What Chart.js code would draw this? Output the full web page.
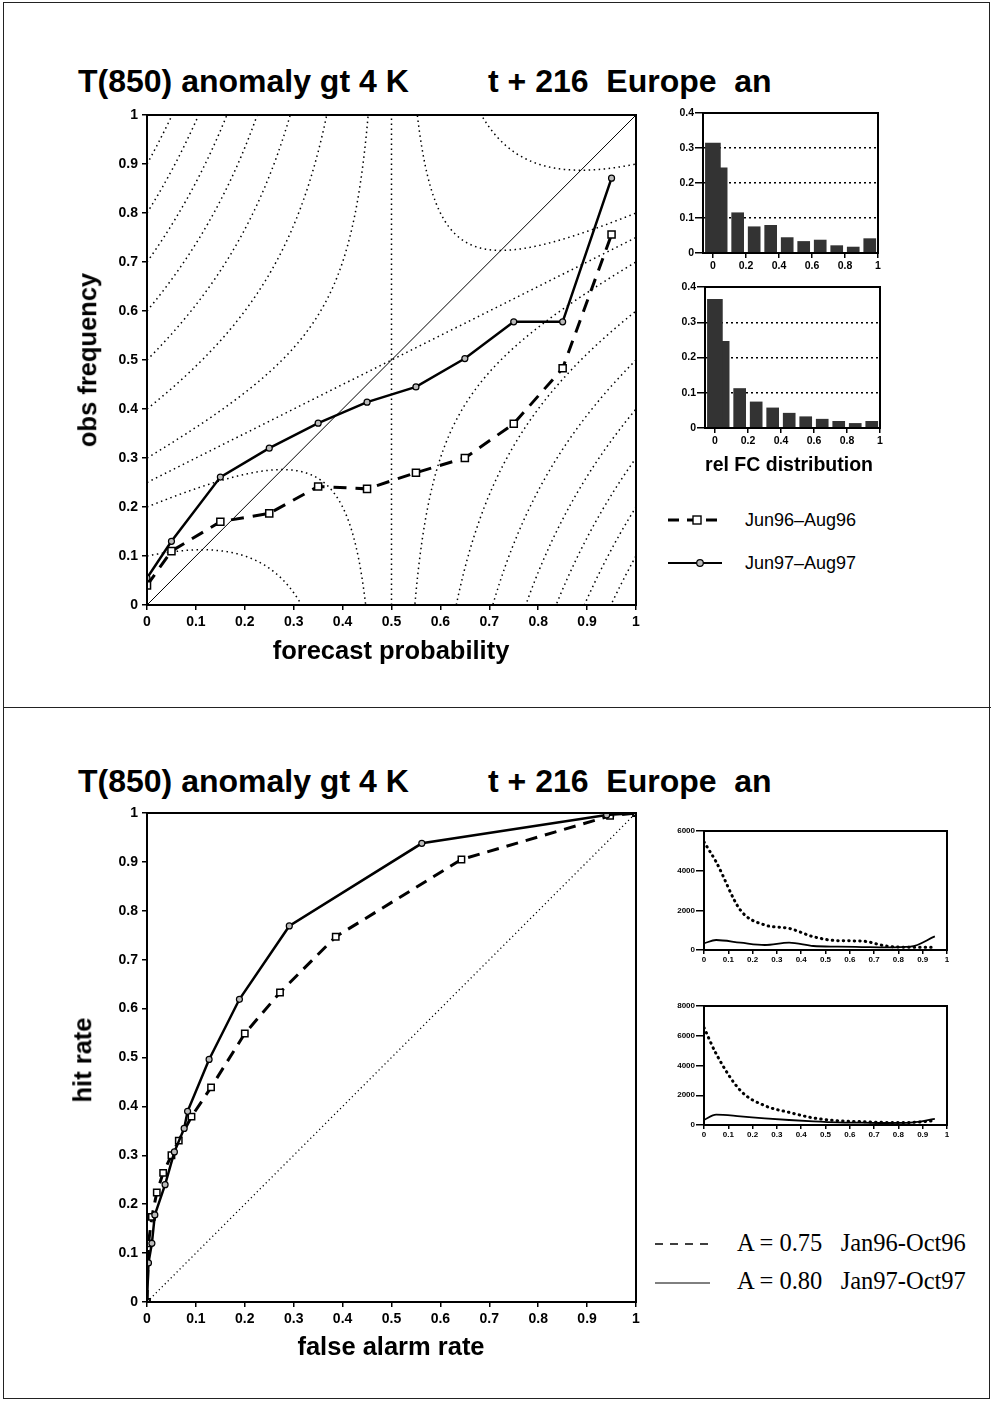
<!DOCTYPE html>
<html>
<head>
<meta charset="utf-8">
<script src="https://cdn.jsdelivr.net/npm/chart.js@4.4.1/dist/chart.umd.min.js"></script>
<style>
  html, body { margin: 0; padding: 0; background: #fff; }
  body { width: 994px; height: 1402px; position: relative; overflow: hidden;
         font-family: "Liberation Sans", Arial, sans-serif; color: #000; }
  .frame { position: absolute; left: 3px; top: 2px; width: 985px; height: 1395px; border: 1.5px solid #222; }
  .divider { position: absolute; left: 3px; top: 707px; width: 988px; border-top: 1.5px solid #222; }
  canvas { position: absolute; }
  .title { position: absolute; font-size: 32px; font-weight: bold; white-space: pre; line-height: 32px; }
  .axt { position: absolute; font-size: 25.5px; font-weight: bold; white-space: nowrap; line-height: 1;
         transform: translate(-50%, -50%); }
  .axt.v { transform: translate(-50%, -50%) rotate(-90deg); }
  .leg { position: absolute; font-size: 18px; white-space: pre; line-height: 18px; }
  .legt { position: absolute; font-family: "Liberation Serif", "Times New Roman", serif; font-size: 24.5px;
          white-space: pre; line-height: 24px; }
</style>
</head>
<body>
<div class="frame"></div>
<div class="divider"></div>

<div class="title" style="left:78px; top:65px;">T(850) anomaly gt 4 K</div>
<div class="title" style="left:488px; top:65px;">t + 216  Europe  an</div>
<div class="title" style="left:78px; top:765px;">T(850) anomaly gt 4 K</div>
<div class="title" style="left:488px; top:765px;">t + 216  Europe  an</div>

<canvas id="rel" width="600" height="570" style="left:60px; top:100px;"></canvas>
<canvas id="fc96" width="240" height="172" style="left:650px; top:103px;"></canvas>
<canvas id="fc97" width="240" height="173" style="left:652px; top:277px;"></canvas>
<canvas id="roc" width="600" height="569" style="left:60px; top:798px;"></canvas>
<canvas id="cnt96" width="305" height="147" style="left:650px; top:821px;"></canvas>
<canvas id="cnt97" width="305" height="147" style="left:650px; top:996px;"></canvas>

<div class="axt v" style="left:88px; top:360px;">obs frequency</div>
<div class="axt" style="left:391px; top:651px;">forecast probability</div>
<div class="axt" style="left:789px; top:465px; font-size:19.5px;">rel FC distribution</div>
<div class="axt v" style="left:83px; top:1060px;">hit rate</div>
<div class="axt" style="left:391px; top:1347px;">false alarm rate</div>

<svg style="position:absolute; left:660px; top:505px;" width="70" height="70">
  <line x1="8" y1="15" x2="62" y2="15" stroke="#000" stroke-width="3" stroke-dasharray="11 8"/>
  <rect x="33" y="11" width="8" height="8" fill="#fff" stroke="#000" stroke-width="1.4"/>
  <line x1="8" y1="58" x2="62" y2="58" stroke="#000" stroke-width="2.2"/>
  <circle cx="40" cy="58" r="3.3" fill="#bbb" stroke="#000" stroke-width="1.2"/>
</svg>
<div class="leg" style="left:745px; top:511px;">Jun96–Aug96</div>
<div class="leg" style="left:745px; top:554px;">Jun97–Aug97</div>

<svg style="position:absolute; left:650px; top:1230px;" width="70" height="70">
  <line x1="5" y1="14" x2="60" y2="14" stroke="#000" stroke-width="1.6" stroke-dasharray="8 7"/>
  <line x1="5" y1="53" x2="60" y2="53" stroke="#000" stroke-width="1"/>
</svg>
<div class="legt" style="left:737px; top:1231px;">A = 0.75   Jan96-Oct96</div>
<div class="legt" style="left:737px; top:1269px;">A = 0.80   Jan97-Oct97</div>

<script>
// reliability diagram
const fcProb = [0, 0.05, 0.15, 0.25, 0.35, 0.45, 0.55, 0.65, 0.75, 0.85, 0.95];
const obsFreq96 = [0.04, 0.11, 0.17, 0.187, 0.242, 0.237, 0.27, 0.30, 0.37, 0.483, 0.756];
const obsFreq97 = [0.055, 0.13, 0.261, 0.32, 0.371, 0.414, 0.445, 0.503, 0.578, 0.578, 0.871];
const climFreq = 0.5;
const noSkill = [0.25, 0.75];
const skillLevels = [0.15, 0.05, -0.05, -0.15, -0.25, -0.35, -0.45, -0.55, -0.65];
const axisTicks = [0, 0.1, 0.2, 0.3, 0.4, 0.5, 0.6, 0.7, 0.8, 0.9, 1];

// relative forecast distribution
const relBins = [0, 0.05, 0.15, 0.25, 0.35, 0.45, 0.55, 0.65, 0.75, 0.85, 0.95];
const relFc96 = [0.314, 0.243, 0.115, 0.075, 0.079, 0.044, 0.033, 0.037, 0.021, 0.017, 0.041];
const relFc97 = [0.365, 0.246, 0.112, 0.074, 0.057, 0.042, 0.032, 0.025, 0.019, 0.013, 0.019];
const relXTicks = [0, 0.2, 0.4, 0.6, 0.8, 1];
const relYTicks = [0, 0.1, 0.2, 0.3, 0.4];

// ROC
const far96 = [0, 0.003, 0.01, 0.02, 0.033, 0.05, 0.065, 0.091, 0.131, 0.2, 0.272, 0.386, 0.643, 0.947, 1];
const hit96 = [0, 0.12, 0.174, 0.224, 0.264, 0.30, 0.33, 0.379, 0.439, 0.549, 0.633, 0.747, 0.905, 0.994, 1];
const far97 = [0, 0.003, 0.01, 0.016, 0.037, 0.056, 0.076, 0.083, 0.127, 0.189, 0.291, 0.562, 0.94, 1];
const hit97 = [0, 0.08, 0.12, 0.178, 0.24, 0.307, 0.355, 0.39, 0.496, 0.619, 0.769, 0.938, 0.996, 1];

// forecast counts per probability
const cntProb = [0, 0.05, 0.15, 0.25, 0.35, 0.45, 0.55, 0.65, 0.75, 0.85, 0.95];
const cntA96 = [5450, 4440, 2010, 1260, 1090, 670, 470, 450, 200, 135, 135];
const cntA97 = [335, 503, 369, 251, 369, 201, 168, 150, 134, 168, 687];
const cntB96 = [6550, 4790, 2315, 1300, 850, 475, 290, 225, 175, 175, 290];
const cntB97 = [337, 695, 580, 445, 337, 243, 175, 155, 135, 155, 405];
const cntATicks = [0, 2000, 4000, 6000];
const cntBTicks = [0, 2000, 4000, 6000, 8000];

const FONT = '"Liberation Sans", Arial, sans-serif';
const fmt = v => String(Math.round(v * 10) / 10);
const pts = (xs, ys) => xs.map((x, i) => ({ x, y: ys[i] }));

const boxPlugin = {
  id: 'box',
  afterDatasetsDraw(chart, args, opts) {
    const { ctx, chartArea: a } = chart;
    ctx.save();
    ctx.lineWidth = opts.width || 2;
    ctx.strokeStyle = '#000';
    ctx.strokeRect(a.left, a.top, a.right - a.left, a.bottom - a.top);
    ctx.restore();
  }
};

// skill isolines of the reliability diagram
const isolinePlugin = {
  id: 'isolines',
  beforeDatasetsDraw(chart) {
    const { ctx, chartArea: a, scales: { x, y } } = chart;
    ctx.save();
    ctx.beginPath();
    ctx.rect(a.left, a.top, a.right - a.left, a.bottom - a.top);
    ctx.clip();
    ctx.strokeStyle = '#000';
    ctx.lineWidth = 1.5;
    ctx.setLineDash([1.5, 3.5]);
    skillLevels.forEach(k => {
      [[0, climFreq - 0.0005], [climFreq + 0.0005, 1]].forEach(([p0, p1]) => {
        ctx.beginPath();
        let on = false;
        for (let i = 0; i <= 600; i++) {
          const p = p0 + (p1 - p0) * i / 600;
          const o = (p + climFreq + k / (p - climFreq)) / 2;
          if (o < -0.3 || o > 1.3) { on = false; continue; }
          const px = x.getPixelForValue(p), py = y.getPixelForValue(o);
          if (!on) { ctx.moveTo(px, py); on = true; } else ctx.lineTo(px, py);
        }
        ctx.stroke();
      });
    });
    ctx.restore();
  }
};

function mainScale(extra, fit) {
  return Object.assign({
    type: 'linear', min: 0, max: 1,
    afterBuildTicks: s => { s.ticks = axisTicks.map(v => ({ value: v })); },
    afterFit: fit,
    ticks: { font: { family: FONT, size: 14, weight: 'bold' }, color: '#000', padding: 4,
             maxRotation: 0, autoSkip: false, callback: v => fmt(v) },
    grid: { drawOnChartArea: false, drawTicks: true, tickLength: 5, color: '#000', lineWidth: 1.5 },
    border: { color: '#000', width: 2 }
  }, extra);
}

const baseOpts = {
  responsive: false, animation: false, events: [],
  plugins: { legend: { display: false }, tooltip: { enabled: false }, box: { width: 2 } }
};

new Chart(document.getElementById('rel'), {
  type: 'line',
  data: { datasets: [
    { data: pts(fcProb, obsFreq97), borderColor: '#000', borderWidth: 2.5, pointStyle: 'circle',
      pointRadius: 3, pointBackgroundColor: '#bbb', pointBorderColor: '#000', pointBorderWidth: 1.2 },
    { data: pts(fcProb, obsFreq96), borderColor: '#000', borderWidth: 3, borderDash: [13, 9], pointStyle: 'rect',
      pointRadius: 5, pointBackgroundColor: '#fff', pointBorderColor: '#000', pointBorderWidth: 1.5 },
    { data: [{ x: 0, y: 0 }, { x: 1, y: 1 }], borderColor: '#000', borderWidth: 1, pointRadius: 0 },
    { data: [{ x: climFreq, y: 0 }, { x: climFreq, y: 1 }], borderColor: '#000', borderWidth: 1.5,
      borderDash: [1.5, 3.5], pointRadius: 0 },
    { data: [{ x: 0, y: noSkill[0] }, { x: 1, y: noSkill[1] }], borderColor: '#000', borderWidth: 1.5,
      borderDash: [1.5, 3.5], pointRadius: 0 }
  ]},
  options: Object.assign({}, baseOpts, {
    layout: { padding: { top: 15, right: 24, left: 0, bottom: 0 } },
    scales: {
      x: mainScale({}, s => { s.height = 65; }),
      y: mainScale({}, s => { s.width = 87; })
    }
  }),
  plugins: [isolinePlugin, boxPlugin]
});

function relChart(id, vals) {
  const tickFont = { family: FONT, size: 10.5, weight: 'bold' };
  new Chart(document.getElementById(id), {
    type: 'bar',
    data: { datasets: [
      { data: [{ x: relBins[0], y: vals[0] }], backgroundColor: '#333', barThickness: 15, grouped: false },
      { data: pts(relBins.slice(1), vals.slice(1)), backgroundColor: '#333', barThickness: 12, grouped: false }
    ]},
    options: Object.assign({}, baseOpts, {
      layout: { padding: { top: 10, right: 12, left: 0, bottom: 0 } },
      scales: {
        x: { type: 'linear', min: -0.06, max: 1, offset: false,
             afterBuildTicks: s => { s.ticks = relXTicks.map(v => ({ value: v })); },
             afterFit: s => { s.height = 22; },
             ticks: { font: tickFont, color: '#000', padding: 2, maxRotation: 0, autoSkip: false, callback: v => fmt(v) },
             grid: { offset: false, drawOnChartArea: false, tickLength: 5, color: '#000', lineWidth: 1.5 },
             border: { color: '#000', width: 2 } },
        y: { type: 'linear', min: 0, max: 0.4,
             afterBuildTicks: s => { s.ticks = relYTicks.map(v => ({ value: v })); },
             afterFit: s => { s.width = 53; },
             ticks: { font: tickFont, color: '#000', padding: 1, callback: v => fmt(v) },
             grid: { tickLength: 8, tickColor: '#000', lineWidth: 1.5,
                     color: c => (c.tick && c.tick.value > 0.05 && c.tick.value < 0.35) ? '#000' : 'rgba(0,0,0,0)' },
             border: { color: '#000', width: 2, dash: [2, 3] } }
      }
    }),
    plugins: [boxPlugin]
  });
}
relChart('fc96', relFc96);
relChart('fc97', relFc97);

new Chart(document.getElementById('roc'), {
  type: 'line',
  data: { datasets: [
    { data: pts(far97, hit97), borderColor: '#000', borderWidth: 2.5, pointStyle: 'circle',
      pointRadius: 3, pointBackgroundColor: '#bbb', pointBorderColor: '#000', pointBorderWidth: 1.2 },
    { data: pts(far96, hit96), borderColor: '#000', borderWidth: 3, borderDash: [12, 8], pointStyle: 'rect',
      pointRadius: 4.5, pointBackgroundColor: '#fff', pointBorderColor: '#000', pointBorderWidth: 1.5 },
    { data: [{ x: 0, y: 0 }, { x: 1, y: 1 }], borderColor: '#000', borderWidth: 1.3,
      borderDash: [1.2, 3], pointRadius: 0 }
  ]},
  options: Object.assign({}, baseOpts, {
    layout: { padding: { top: 15, right: 24, left: 0, bottom: 0 } },
    scales: {
      x: mainScale({}, s => { s.height = 65; }),
      y: mainScale({}, s => { s.width = 87; })
    }
  }),
  plugins: [boxPlugin]
});

function countChart(id, yMax, yTicks, d96, d97) {
  const tickFont = { family: FONT, size: 8, weight: 'bold' };
  new Chart(document.getElementById(id), {
    type: 'line',
    data: { datasets: [
      { data: pts(cntProb, d97), borderColor: '#000', borderWidth: 1.8, pointRadius: 0, cubicInterpolationMode: 'monotone' },
      { data: pts(cntProb, d96), borderColor: '#000', borderWidth: 3, borderDash: [0.5, 5], borderCapStyle: 'round',
        pointRadius: 0, cubicInterpolationMode: 'monotone' }
    ]},
    options: Object.assign({}, baseOpts, {
      layout: { padding: { top: 10, right: 8, left: 0, bottom: 0 } },
      scales: {
        x: { type: 'linear', min: 0, max: 1,
             afterBuildTicks: s => { s.ticks = axisTicks.map(v => ({ value: v })); },
             afterFit: s => { s.height = 18; },
             ticks: { font: tickFont, color: '#000', padding: 1, maxRotation: 0, autoSkip: false, callback: v => fmt(v) },
             grid: { drawOnChartArea: false, tickLength: 4, color: '#000', lineWidth: 1.5 },
             border: { color: '#000', width: 2 } },
        y: { type: 'linear', min: 0, max: yMax,
             afterBuildTicks: s => { s.ticks = yTicks.map(v => ({ value: v })); },
             afterFit: s => { s.width = 54; },
             ticks: { font: tickFont, color: '#000', padding: 1, callback: v => String(v) },
             grid: { drawOnChartArea: false, tickLength: 8, color: '#000', lineWidth: 1.5 },
             border: { color: '#000', width: 2 } }
      }
    }),
    plugins: [boxPlugin]
  });
}
countChart('cnt96', 6000, cntATicks, cntA96, cntA97);
countChart('cnt97', 8000, cntBTicks, cntB96, cntB97);
</script>
</body>
</html>
